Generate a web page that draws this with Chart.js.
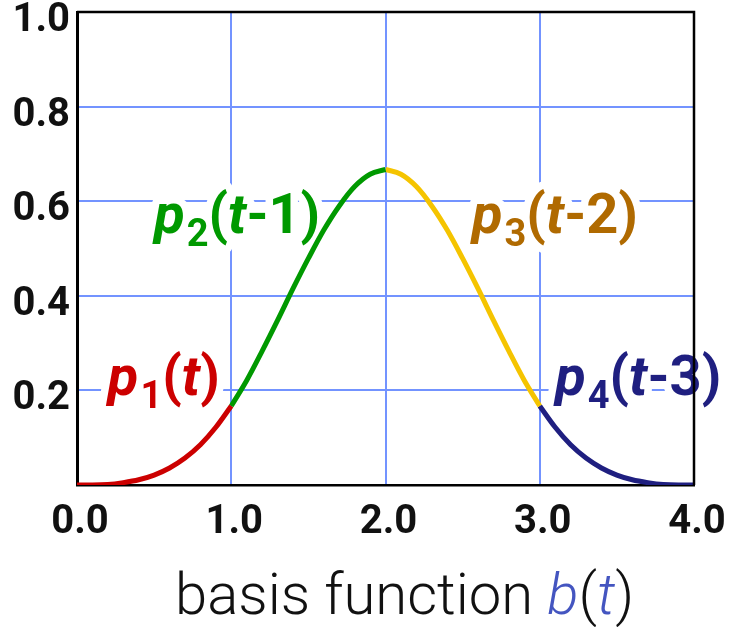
<!DOCTYPE html>
<html>
  <script src="https://cdn.jsdelivr.net/npm/chart.js"></script>
  <body style="margin:0; background:#fff;">
    <div style="width:729px; height:627px;">
      <canvas id="myChart"></canvas>
    </div>

    <script>
      const ctx = document.getElementById('myChart');

      // t positions and b(t) values for each of the four spline pieces
      const t1 = [0.0, 0.1, 0.2, 0.3, 0.4, 0.5, 0.6, 0.7, 0.8, 0.9, 1.0];
      const p1 = [0.000, 0.000, 0.001, 0.005, 0.011, 0.021, 0.036, 0.057, 0.085, 0.122, 0.167];
      const t2 = [1.0, 1.1, 1.2, 1.3, 1.4, 1.5, 1.6, 1.7, 1.8, 1.9, 2.0];
      const p2 = [0.167, 0.221, 0.283, 0.348, 0.415, 0.479, 0.539, 0.590, 0.631, 0.657, 0.667];
      const t3 = [2.0, 2.1, 2.2, 2.3, 2.4, 2.5, 2.6, 2.7, 2.8, 2.9, 3.0];
      const p3 = [0.667, 0.657, 0.631, 0.590, 0.539, 0.479, 0.415, 0.348, 0.283, 0.221, 0.167];
      const t4 = [3.0, 3.1, 3.2, 3.3, 3.4, 3.5, 3.6, 3.7, 3.8, 3.9, 4.0];
      const p4 = [0.167, 0.122, 0.085, 0.057, 0.036, 0.021, 0.011, 0.005, 0.001, 0.000, 0.000];

      const xTicks = [0, 1, 2, 3, 4];
      const yTicks = [0.2, 0.4, 0.6, 0.8, 1.0];

      // piece labels: [subscript, shift text, x, y, text colour]
      const pieceLabels = [
        ['1', '', 0.2, 0.19, '#cc0000'],
        ['2', '-1', 0.5, 0.533, '#009900'],
        ['3', '-2', 2.56, 0.533, '#b06a00'],
        ['4', '-3', 3.1, 0.19, '#1f1f80'],
      ];

      function pts(xs, ys) {
        return xs.map(function (x, i) { return { x: x, y: ys[i] }; });
      }

      const FONT = 'Roboto, "Liberation Sans", sans-serif';

      // draws p_n(t-k) as runs of mixed fonts, white halo first
      const labelPlugin = {
        id: 'labels',
        beforeDatasetsDraw(chart) {
          const c = chart.ctx;
          const sx = chart.scales.x, sy = chart.scales.y;
          pieceLabels.forEach(function (l) {
            const runs = [
              ['p', 'italic bold 56px ' + FONT, 0],
              [l[0], 'bold 38px ' + FONT, 13],
              ['(', 'bold 56px ' + FONT, 0],
              ['t', 'italic bold 56px ' + FONT, 0],
              [l[1] + ')', 'bold 56px ' + FONT, 0],
            ];
            let x = sx.getPixelForValue(l[2]);
            const y = sy.getPixelForValue(l[3]);
            c.save();
            c.textBaseline = 'alphabetic';
            c.textAlign = 'left';
            c.lineJoin = 'round';
            [true, false].forEach(function (halo) {
              let cx = x;
              runs.forEach(function (r) {
                c.font = r[1];
                if (halo) {
                  c.strokeStyle = '#ffffff';
                  c.lineWidth = 15;
                  c.strokeText(r[0], cx, y + r[2]);
                } else {
                  c.fillStyle = l[4];
                  c.fillText(r[0], cx, y + r[2]);
                }
                cx += c.measureText(r[0]).width + (r[0] === 'p' ? 2 : 0);
              });
            });
            c.restore();
          });
        },
        afterDraw(chart) {
          const c = chart.ctx;
          const a = chart.chartArea;
          c.save();
          // top and right frame
          c.strokeStyle = '#000';
          c.lineWidth = 2.5;
          c.beginPath();
          c.moveTo(a.left, a.top);
          c.lineTo(a.right, a.top);
          c.lineTo(a.right, a.bottom);
          c.stroke();
          // axis caption
          const runs = [
            ['basis function ', '300 58px ' + FONT, '#111'],
            ['b', 'italic 300 58px ' + FONT, '#4455c0'],
            ['(', '300 58px ' + FONT, '#111'],
            ['t', 'italic 300 58px ' + FONT, '#4455c0'],
            [')', '300 58px ' + FONT, '#111'],
          ];
          let cx = 175;
          c.textBaseline = 'alphabetic';
          runs.forEach(function (r) {
            c.font = r[1];
            c.fillStyle = r[2];
            c.fillText(r[0], cx, 614);
            cx += c.measureText(r[0]).width;
          });
          c.restore();
        }
      };

      function line(data, color) {
        return {
          data: data,
          borderColor: color,
          borderWidth: 5,
          pointRadius: 0,
          cubicInterpolationMode: 'monotone',
          fill: false,
        };
      }

      new Chart(ctx, {
        type: 'line',
        data: {
          datasets: [
            line(pts(t1, p1), '#cc0000'),
            line(pts(t2, p2), '#009900'),
            line(pts(t3, p3), '#f5c400'),
            line(pts(t4, p4), '#1f1f80'),
          ],
        },
        plugins: [labelPlugin],
        options: {
          responsive: true,
          maintainAspectRatio: false,
          animation: false,
          layout: { padding: { top: 12, right: 35, left: 0, bottom: 0 } },
          plugins: {
            legend: { display: false },
            tooltip: { enabled: false },
          },
          scales: {
            x: {
              type: 'linear',
              min: 0,
              max: 4,
              afterBuildTicks: function (s) {
                s.ticks = xTicks.map(function (v) { return { value: v }; });
              },
              afterFit: function (s) {
                s.height = 142;
                s.paddingLeft = 0;
                s.paddingRight = 0;
              },
              grid: { color: '#7393ff', lineWidth: 2, drawTicks: false },
              border: { color: '#000', width: 2.5 },
              ticks: {
                padding: 14,
                labelOffset: 3,
                color: '#111',
                font: { family: FONT, size: 40, weight: 'bold' },
                callback: function (v) { return v.toFixed(1); },
              },
            },
            y: {
              min: 0,
              max: 1,
              afterBuildTicks: function (s) {
                s.ticks = yTicks.map(function (v) { return { value: v }; });
              },
              afterFit: function (s) {
                s.width = 77;
                s.paddingTop = 0;
                s.paddingBottom = 0;
              },
              grid: { color: '#7393ff', lineWidth: 2, drawTicks: false },
              border: { color: '#000', width: 3 },
              ticks: {
                padding: 7,
                labelOffset: 9,
                color: '#111',
                font: { family: FONT, size: 40, weight: 'bold' },
                callback: function (v) { return v.toFixed(1); },
              },
            },
          },
        },
      });
    </script>
  </body>
</html>
